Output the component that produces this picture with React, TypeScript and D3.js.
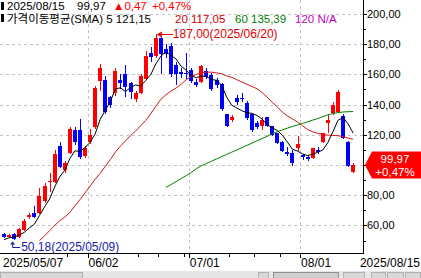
import React from "react";
import * as d3 from "d3";

const dates: string[] = [
  "2025/05/07","2025/05/08","2025/05/09","2025/05/12","2025/05/13","2025/05/14","2025/05/15","2025/05/16","2025/05/19","2025/05/20","2025/05/21","2025/05/22","2025/05/23","2025/05/27","2025/05/28","2025/05/29","2025/05/30",
  "2025/06/02","2025/06/03","2025/06/04","2025/06/05","2025/06/06","2025/06/09","2025/06/10","2025/06/11","2025/06/12","2025/06/13","2025/06/16","2025/06/17","2025/06/18","2025/06/20","2025/06/23","2025/06/24","2025/06/25","2025/06/26","2025/06/27","2025/06/30",
  "2025/07/01","2025/07/02","2025/07/03","2025/07/07","2025/07/08","2025/07/09","2025/07/10","2025/07/11","2025/07/14","2025/07/15","2025/07/16","2025/07/17","2025/07/18","2025/07/21","2025/07/22","2025/07/23","2025/07/24","2025/07/25","2025/07/28","2025/07/29","2025/07/30","2025/07/31",
  "2025/08/01","2025/08/04","2025/08/05","2025/08/06","2025/08/07","2025/08/08","2025/08/11","2025/08/12","2025/08/13","2025/08/14","2025/08/15"
];

const opens: number[] = [
  54.0, 52.5, 54.5, 52.5, 57.0, 65.5, 68.5, 68.0, 76.0, 88.5,
  89.0, 112.5, 96.5, 108.0, 123.5, 123.0, 106.0, 115.5, 125.0, 155.5,
  156.0, 145.0, 148.0, 156.5, 160.0, 154.5, 143.5, 148.0, 157.0, 174.5,
  172.0, 184.0, 176.5, 179.0, 166.0, 161.5, 161.0, 163.0, 155.0, 155.0,
  162.0, 159.5, 156.0, 153.5, 133.5, 129.5, 144.5, 144.5, 141.0, 133.5,
  128.0, 126.0, 131.5, 125.5, 121.0, 115.5, 108.5, 108.0, 111.0, 106.5,
  105.5, 104.5, 110.0, 115.0, 128.0, 134.5, 135.0, 132.5, 115.5, 95.5
];
const highs: number[] = [
  55.0, 54.0, 55.0, 58.5, 64.0, 68.0, 73.0, 84.5, 88.0, 95.0,
  110.0, 115.0, 102.5, 125.0, 125.0, 130.5, 112.5, 124.0, 152.0, 167.0,
  159.0, 146.0, 164.0, 160.0, 166.5, 155.0, 149.0, 160.0, 175.5, 178.0,
  187.0, 184.5, 180.0, 181.0, 168.0, 164.0, 174.5, 164.5, 157.0, 166.0,
  164.0, 161.0, 157.5, 154.0, 134.0, 133.0, 146.5, 147.5, 142.5, 134.0,
  129.0, 132.0, 132.0, 126.0, 121.5, 116.0, 112.0, 110.0, 119.0, 107.5,
  106.5, 111.5, 112.0, 121.5, 133.0, 141.5, 149.5, 134.0, 116.0, 101.0
];
const lows: number[] = [
  51.5, 52.0, 50.18, 51.5, 56.0, 64.5, 65.0, 67.5, 75.0, 82.0,
  88.0, 98.0, 95.0, 107.0, 113.0, 104.0, 104.5, 114.0, 124.0, 149.0,
  134.0, 138.0, 146.0, 150.0, 145.0, 143.5, 142.0, 147.0, 156.0, 168.0,
  171.0, 160.0, 171.0, 158.0, 153.0, 157.5, 157.0, 154.0, 151.5, 154.5,
  157.0, 149.0, 151.0, 136.0, 125.0, 128.5, 140.0, 141.5, 130.0, 122.0,
  124.0, 123.3, 125.0, 119.5, 114.0, 108.5, 106.0, 99.5, 109.0, 103.5,
  102.5, 104.0, 107.5, 114.5, 121.0, 133.0, 134.5, 117.0, 98.5, 94.5
];
const closes: number[] = [
  52.2, 53.5, 50.8, 57.5, 63.0, 67.0, 65.5, 79.5, 86.0, 89.3,
  107.0, 99.0, 101.5, 124.0, 115.5, 105.0, 111.0, 120.0, 151.0, 164.0,
  135.0, 139.5, 162.5, 154.5, 151.5, 148.5, 148.0, 159.0, 172.5, 171.5,
  184.0, 173.5, 173.5, 160.0, 160.0, 160.0, 160.5, 155.5, 153.0, 165.5,
  158.5, 150.5, 153.0, 137.0, 125.5, 132.0, 141.5, 143.5, 131.0, 123.0,
  125.0, 129.5, 125.5, 120.0, 114.5, 109.0, 107.0, 101.5, 114.0, 105.0,
  104.0, 111.0, 108.5, 121.0, 130.0, 140.0, 148.5, 117.8, 99.5, 99.97
];
// closes of the four sessions before the first visible one (needed for SMA 5)
const priorCloses: number[] = [46.8, 48.9, 50.6, 54.0];

const sma20: (number | null)[] = [
  null, null, null, null, null, null, null, 50, 53, 56.5,
  60, 63, 65.5, 68.5, 73, 77, 81.5, 86, 90.5, 94.5,
  99, 103.5, 108.5, 112.5, 116, 119.5, 122.5, 126, 129.5, 134,
  139, 143.5, 146.5, 149, 151, 153.5, 156.5, 158.5, 160, 161,
  161.5, 161.5, 161, 160.5, 159, 158, 156.5, 155, 153.5, 152,
  150.5, 148, 145, 141.5, 138.5, 135, 132.5, 130.5, 128.5, 126,
  123.5, 122, 121, 120.2, 119.8, 119.6, 119.4, 118.8, 117.8, 117.05
];
const sma60: (number | null)[] = [
  null, null, null, null, null, null, null, null, null, null,
  null, null, null, null, null, null, null, null, null, null,
  null, null, null, null, null, null, null, null, null, null,
  null, null, 85.1, 87, 89, 91, 93, 95, 97.5, 99.5,
  101, 102.5, 104, 105.5, 107, 108.5, 110, 111.5, 113, 114.5,
  116, 117.5, 119, 120.8, 122, 123.3, 124.4, 125.5, 126.5, 127.5,
  128.6, 129.7, 130.8, 132, 133.2, 134.1, 134.7, 135.1, 135.3, 135.39
];

const yTickValues: number[] = [60, 80, 100, 120, 140, 160, 180, 200];
const yMinorTicks: number[] = [50, 70, 90, 110, 130, 150, 170, 190];
const yTickLabels: string[] = ["60,00", "80,00", "100,00", "120,00", "140,00", "160,00", "180,00", "200,00"];

const headerLine1: string[] = ["2025/08/15", "99,97", "▲0,47", "+0,47%"];
const headerLine2: string[] = ["가격이동평균(SMA) 5 121,15", "20 117,05", "60 135,39", "120 N/A"];
const lastPriceLabel: string[] = ["99,97", "+0,47%"];
const highLabel = "187,00(2025/06/20)";
const lowLabel = "50,18(2025/05/09)";

const W = 421;
const H = 278;
const PLOT_RIGHT = 363;
const PLOT_BOTTOM = 253;
const FONT = "'Liberation Sans', Arial, 'Noto Sans CJK KR', sans-serif";
const UP = "#ff0000";
const DOWN = "#0000ff";

export default function App() {
  const x = d3.scaleBand<string>().domain(dates).range([1.5, 355.7]).padding(0);
  const y = d3.scaleLinear().domain([60, 200]).range([225.4, 14]);
  const step = x.step();
  const cx = (i: number) => (x(dates[i]) as number) + step / 2;

  const allCloses = [...priorCloses, ...closes];
  const sma5: number[] = closes.map((_, i) => {
    const k = i + priorCloses.length;
    return d3.mean(allCloses.slice(k - 4, k + 1)) as number;
  });

  const line = d3
    .line<number | null>()
    .defined((d) => d !== null)
    .x((_, i) => cx(i))
    .y((d) => y(d as number));

  const parse = d3.timeParse("%Y/%m/%d");
  const parsed = dates.map((d) => parse(d) as Date);
  const monthIdx: number[] = [];
  const weekIdx: number[] = [];
  parsed.forEach((d, i) => {
    if (i === 0) return;
    if (d.getMonth() !== parsed[i - 1].getMonth()) monthIdx.push(i);
    else if (d.getDay() < parsed[i - 1].getDay()) weekIdx.push(i);
  });
  const fmtMD = d3.timeFormat("%m/%d");
  const slotLeft = (i: number) => x(dates[i]) as number;
  const labelExtents: [number, number][] = [[0, 65], ...monthIdx.map((i) => [slotLeft(i), slotLeft(i) + 32] as [number, number])];
  const shownWeek = weekIdx.filter((i) => {
    const px = slotLeft(i);
    return !labelExtents.some(([a, b]) => px >= a && px <= b);
  });

  const hiIdx = d3.maxIndex(highs);
  const loIdx = d3.minIndex(lows);
  const lastIdx = closes.length - 1;
  const lastY = y(closes[lastIdx]);
  const tagTop = Math.round(lastY) - 13.5;
  const tagBot = Math.round(lastY) + 13.5;

  const gridYs = yTickValues.map((v) => Math.round(y(v)) + 0.5);

  return (
    <svg
      width={W}
      height={H}
      style={{ position: "absolute", left: 0, top: 0, background: "#fff" }}
      fontFamily={FONT}
    >
      <defs>
        <clipPath id="plot">
          <rect x={0} y={0} width={PLOT_RIGHT} height={PLOT_BOTTOM} />
        </clipPath>
      </defs>
      <rect x={0} y={0} width={W} height={H} fill="#fff" />

      {/* grid */}
      <g stroke="#c4c4c4" strokeWidth={1} strokeDasharray="3,3">
        {gridYs.map((gy, k) => (
          <line key={"gy" + k} x1={0} x2={PLOT_RIGHT} y1={gy} y2={gy} />
        ))}
        {monthIdx.map((i) => (
          <line key={"gx" + i} x1={Math.round(slotLeft(i)) + 0.5} x2={Math.round(slotLeft(i)) + 0.5} y1={0} y2={PLOT_BOTTOM} />
        ))}
      </g>

      <g clipPath="url(#plot)">
        {/* candles */}
        {dates.map((d, i) => {
          const o = opens[i];
          const c = closes[i];
          const col = c >= o ? UP : DOWN;
          const left = Math.round(cx(i) - 2);
          const top = Math.round(y(Math.max(o, c)));
          const bot = Math.round(y(Math.min(o, c)));
          const hy = Math.round(y(highs[i]));
          const ly = Math.round(y(lows[i]));
          return (
            <g key={d}>
              <line x1={left + 2.5} x2={left + 2.5} y1={hy} y2={ly} stroke={col} strokeWidth={1} />
              <rect x={left} y={top} width={4} height={Math.max(1, bot - top)} fill={col} />
            </g>
          );
        })}
        {/* moving averages */}
        <path d={line(sma60) || ""} fill="none" stroke="#008000" strokeWidth={1} />
        <path d={line(sma20) || ""} fill="none" stroke="#d01818" strokeWidth={1} />
        <path d={line(sma5) || ""} fill="none" stroke="#000" strokeWidth={1} />
      </g>

      {/* axes */}
      <line x1={PLOT_RIGHT + 0.5} x2={PLOT_RIGHT + 0.5} y1={0} y2={PLOT_BOTTOM + 1} stroke="#000" />
      <line x1={0} x2={PLOT_RIGHT + 1} y1={PLOT_BOTTOM + 0.5} y2={PLOT_BOTTOM + 0.5} stroke="#000" />
      {yTickValues.map((v, k) => {
        const ty = y(v);
        const hidden = ty > tagTop - 6 && ty < tagBot + 6;
        return (
          <g key={"yt" + v}>
            <line x1={PLOT_RIGHT} x2={PLOT_RIGHT + 4} y1={gridYs[k]} y2={gridYs[k]} stroke="#000" />
            {hidden ? null : (
              <text x={PLOT_RIGHT + 4} y={ty + 4} fontSize={11} fill="#000">
                {yTickLabels[k]}
              </text>
            )}
          </g>
        );
      })}
      {yMinorTicks.map((v) =>
        y(v) > 4 && y(v) < PLOT_BOTTOM - 2 ? (
          <line key={"ym" + v} x1={PLOT_RIGHT} x2={PLOT_RIGHT + 3} y1={Math.round(y(v)) + 0.5} y2={Math.round(y(v)) + 0.5} stroke="#000" />
        ) : null
      )}

      {/* x ticks & labels */}
      {monthIdx.map((i) => (
        <g key={"mx" + i}>
          <line x1={Math.round(slotLeft(i)) + 0.5} x2={Math.round(slotLeft(i)) + 0.5} y1={PLOT_BOTTOM} y2={PLOT_BOTTOM + 5} stroke="#000" />
          <text x={slotLeft(i) + 1} y={267} fontSize={12} fill="#000">
            {fmtMD(parsed[i])}
          </text>
        </g>
      ))}
      {shownWeek.map((i) => (
        <line key={"wx" + i} x1={Math.round(slotLeft(i)) + 0.5} x2={Math.round(slotLeft(i)) + 0.5} y1={PLOT_BOTTOM + 1} y2={PLOT_BOTTOM + 4} stroke="#000" />
      ))}
      <text x={3} y={267} fontSize={12} fill="#000">
        {dates[0]}
      </text>
      <text x={420} y={267} fontSize={12} fill="#000" textAnchor="end">
        {dates[lastIdx]}
      </text>

      {/* high annotation */}
      <g stroke="#e00000" fill="#e00000">
        <line x1={cx(hiIdx) + 2} x2={cx(hiIdx) + 17} y1={Math.round(y(highs[hiIdx])) + 0.5} y2={Math.round(y(highs[hiIdx])) + 0.5} />
        <path
          d={`M${cx(hiIdx) + 1},${Math.round(y(highs[hiIdx])) + 0.5} l5,-3 l0,6 z`}
          stroke="none"
        />
      </g>
      <text x={cx(hiIdx) + 17} y={y(highs[hiIdx]) + 4.5} fontSize={12} fill="#e00000">
        {highLabel}
      </text>

      {/* low annotation */}
      <g stroke="#1a1aa8" fill="#1a1aa8">
        <polyline points={`${cx(loIdx) + 6},247.5 ${cx(loIdx) - 1.5},247.5 ${cx(loIdx) - 1.5},243.5`} fill="none" />
        <path d={`M${cx(loIdx) - 1.5},241.5 l-2.5,3 l5,0 z`} stroke="none" />
      </g>
      <text x={cx(loIdx) + 7} y={251} fontSize={12} fill="#1a1aa8">
        {lowLabel}
      </text>

      {/* last price tag */}
      <path
        d={`M365,${lastY} L372,${tagTop} L421,${tagTop} L421,${tagBot} L372,${tagBot} Z`}
        fill="#ff0000"
      />
      <text x={395} y={Math.round(lastY) - 2.5} fontSize={11.5} fill="#fff" textAnchor="middle">
        {lastPriceLabel[0]}
      </text>
      <text x={395} y={Math.round(lastY) + 10.5} fontSize={11.5} fill="#fff" textAnchor="middle">
        {lastPriceLabel[1]}
      </text>

      {/* header */}
      <rect x={1} y={2} width={3} height={8} fill="#000" />
      <text y={10} fontSize={11.5}>
        <tspan x={7} fill="#000">{headerLine1[0]}</tspan>
        <tspan x={77} fill="#000">{headerLine1[1]}</tspan>
        <tspan x={113} fill="#ff0000">{headerLine1[2]}</tspan>
        <tspan x={152} fill="#ff0000">{headerLine1[3]}</tspan>
      </text>
      <rect x={1} y={14} width={3} height={8} fill="#000" />
      <text y={22.5} fontSize={11.5}>
        <tspan x={7} fill="#000">{headerLine2[0]}</tspan>
        <tspan x={175} fill="#d00000">{headerLine2[1]}</tspan>
        <tspan x={235} fill="#008000">{headerLine2[2]}</tspan>
        <tspan x={295} fill="#c000c0">{headerLine2[3]}</tspan>
      </text>

      {/* scrollbar */}
      <rect x={0} y={271} width={W} height={7} fill="#e6e6e6" />
      <rect x={0.5} y={272.5} width={82} height={6} fill="#d8d8d8" stroke="#b0b0b0" />
      <rect x={258.5} y={272.5} width={10} height={6} fill="#d8d8d8" stroke="#b0b0b0" />
      <rect x={273.5} y={272.5} width={65} height={6} fill="#cfcfcf" stroke="#909090" />
      <rect x={343.5} y={272.5} width={21} height={6} fill="#d8d8d8" stroke="#b0b0b0" />
      <rect x={371.5} y={272.5} width={14} height={6} fill="#d8d8d8" stroke="#b0b0b0" />
      <rect x={387.5} y={272.5} width={16} height={6} fill="#d8d8d8" stroke="#b0b0b0" />
      <rect x={405.5} y={272.5} width={15} height={6} fill="#d8d8d8" stroke="#b0b0b0" />
    </svg>
  );
}
